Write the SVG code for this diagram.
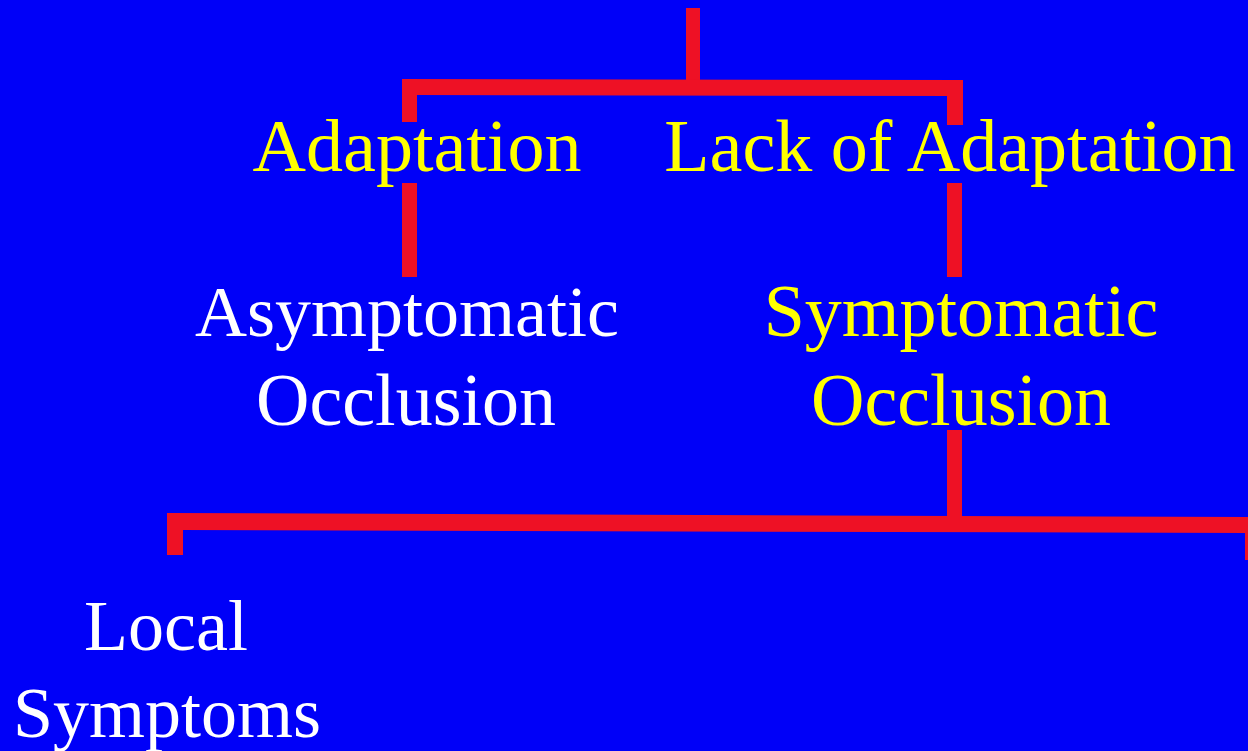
<svg xmlns="http://www.w3.org/2000/svg" width="1248" height="751" viewBox="0 0 1248 751">
  <style>
    .bar { fill: #EE1125; }
    .t { font-family: "Liberation Serif", "Times New Roman", serif; font-size: 74px; text-anchor: middle; }
    .s { font-size: 72px; }
    .y { fill: #FFFF00; }
    .w { fill: #FFFFFF; }
  </style>
  <rect x="0" y="0" width="1248" height="751" fill="#0000F8"/>
  <g id="connectors">
    <rect class="bar" x="686" y="8" width="14" height="80"/>
    <polygon class="bar" points="402,79 963,80 963,96 417,95 417,122 402,122"/>
    <rect class="bar" x="947" y="88" width="16" height="37"/>
    <rect class="bar" x="402" y="183" width="15" height="94"/>
    <rect class="bar" x="947" y="183" width="15" height="94"/>
    <rect class="bar" x="947" y="430" width="15" height="92"/>
    <polygon class="bar" points="167,513 1248,517 1248,533 183,530 183,555 167,555"/>
    <rect class="bar" x="1245" y="530" width="3" height="30"/>
  </g>
  <g id="adaptation">
    <text class="t y" x="417" y="171">Adaptation</text>
  </g>
  <g id="lack-of-adaptation">
    <text class="t y" x="950" y="171">Lack of Adaptation</text>
  </g>
  <g id="asymptomatic-occlusion">
    <text class="t s w" x="407" y="336">Asymptomatic</text>
    <text class="t w" x="406" y="425">Occlusion</text>
  </g>
  <g id="symptomatic-occlusion">
    <text class="t y" x="961" y="336">Symptomatic</text>
    <text class="t y" x="961" y="425">Occlusion</text>
  </g>
  <g id="local-symptoms">
    <text class="t s w" x="166" y="650">Local</text>
    <text class="t s w" x="167" y="737">Symptoms</text>
  </g>
</svg>
